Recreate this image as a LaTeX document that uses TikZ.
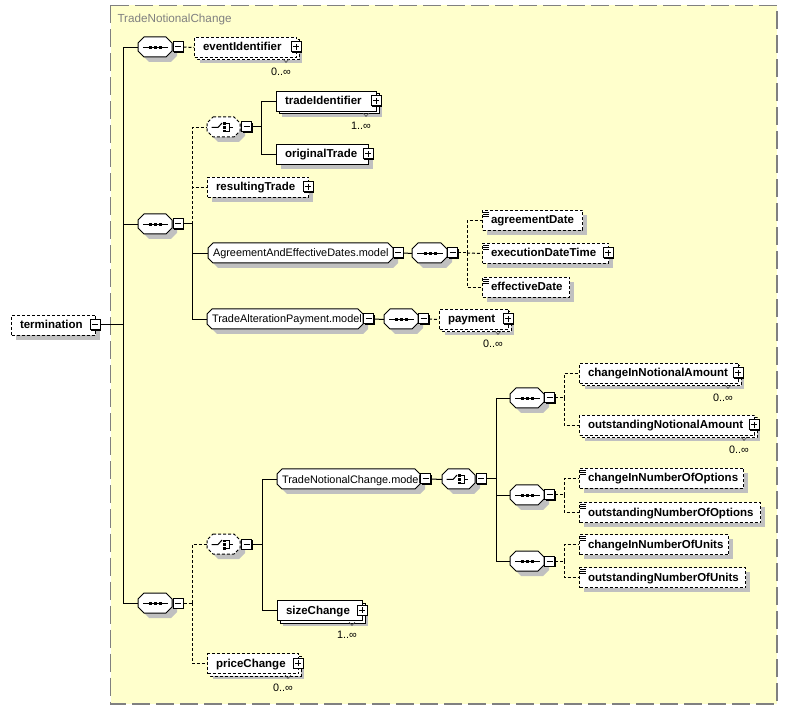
\documentclass[tikz,border=0pt]{standalone}
\usepackage{fontspec}
\setmainfont{Liberation Sans}
\definecolor{bgyellow}{RGB}{255,255,204}
\definecolor{shadowc}{RGB}{192,192,192}
\definecolor{framec}{RGB}{128,128,128}
\tikzset{
  dsh/.style={dash pattern=on 3pt off 2pt},
  elbox/.style={draw, fill=white, line width=1pt, inner sep=0pt, rectangle},
  anchorbox/.style={inner sep=0pt, rectangle, draw=none},
  eltext/.style={font=\bfseries\fontsize{11.5}{13}\selectfont, inner sep=0pt, anchor=base west},
  grtext/.style={font=\fontsize{10.9}{13}\selectfont, inner sep=0pt, anchor=base west},
  occtext/.style={font=\fontsize{10.8}{12}\selectfont, inner sep=0pt, anchor=base},
  ttext/.style={font=\fontsize{11.7}{13}\selectfont, inner sep=0pt, anchor=base west, text=framec},
  pmnode/.style={draw, fill=white, line width=1pt, minimum size=10pt, inner sep=0pt, rectangle},
}
\newcommand\octo[6]{\path[#1] (#2+#6,#3) -- (#4-#6,#3) -- (#4,#3+#6) -- (#4,#5-#6) -- (#4-#6,#5) -- (#2+#6,#5) -- (#2,#5-#6) -- (#2,#3+#6) -- cycle;}
\newcommand\elem[8]{%
  \ifnum#8=1
    \fill[shadowc] (#2+6,#3+6) rectangle (#4+6,#5+6);
    \draw[#7,fill=white,line width=1pt] (#2+3,#3+3) rectangle (#4+3,#5+3);
  \else
    \fill[shadowc] (#2+5,#3+5) rectangle (#4+5,#5+5);
  \fi
  \node[elbox,#7,anchor=north west,minimum width=#4-#2,minimum height=#5-#3] (#1) at (#2,#3) {};
  \node[eltext] (#1t) at (#2+8.5,#3+14) {#6};
}
\newcommand\pmbox[4]{%
  \fill[black] (#2-4,#3-4) rectangle (#2+6,#3+6);
  \node[pmnode] (#1) at (#2,#3) {};
  \draw[line width=1pt] (#2-3,#3) -- (#2+3,#3);
  \ifnum#4=1 \draw[line width=1pt] (#2,#3-3) -- (#2,#3+3);\fi
}
\newcommand\seqn[5]{%
  \octo{fill=shadowc,shift={(5,5)}}{#2}{#3}{#4}{#5}{6}
  \octo{draw,fill=white,line width=1pt}{#2}{#3}{#4}{#5}{6}
  \node[anchorbox,anchor=north west,minimum width=#4-#2,minimum height=#5-#3] (#1) at (#2,#3) {};
  \draw[line width=1pt] ([xshift=5pt]#1.west) -- ([xshift=-5pt]#1.east);
  \foreach \d in {-5,0,5} \fill ([xshift=\d pt]#1.center) +(-1.5pt,-1.3pt) rectangle +(1.5pt,1.3pt);
}
\newcommand\choicen[6]{%
  \octo{fill=shadowc,shift={(5,5)}}{#2}{#3}{#4}{#5}{6}
  \octo{draw,fill=white,line width=1pt,#6}{#2}{#3}{#4}{#5}{6}
  \node[anchorbox,anchor=north west,minimum width=#4-#2,minimum height=#5-#3] (#1) at (#2,#3) {};
  \begin{scope}[shift={(#1.west)}]
    \draw[line width=1pt] (4.5,0) -- (11,0) -- (15,-4.5);
    \fill (16,-5) rectangle (18.5,-2.5);
    \fill (16,-1.3) rectangle (18.5,1.3);
    \fill (16,2.5) rectangle (18.5,5);
    \draw[line width=0.8pt] (18.5,-3.75) -- (22,-3.75) -- (22,3.75) -- (18.5,3.75) (22,0) -- (25.5,0);
  \end{scope}
}
\newcommand\groupn[6]{%
  \octo{fill=shadowc,shift={(5,5)}}{#2}{#3}{#4}{#5}{5}
  \octo{draw,fill=white,line width=1pt}{#2}{#3}{#4}{#5}{5}
  \node[anchorbox,anchor=north west,minimum width=#4-#2,minimum height=#5-#3] (#1) at (#2,#3) {};
  \node[grtext] (#1t) at (#2+4.5,#3+14) {#6};
}
\newcommand\occ[4]{%
  \draw[line width=0.6pt, black!70] (#2-13,#3+2) -- (#2-10,#3+5.5) -- (#2-7,#3+2);
  \node[occtext] (#1) at (#2-15,#3+18.5) {#4};
}
\newcommand\eqicon[2]{\draw[line width=0.8pt] (#1+1,#2+2) -- (#1+7,#2+2) (#1+1,#2+4) -- (#1+7,#2+4) (#1+1,#2+6) -- (#1+7,#2+6);}
\begin{document}
\begin{tikzpicture}[x=1pt,y=-1pt,line width=1pt]
\useasboundingbox (0,0) rectangle (788,711);
\draw[framec,line width=1.5pt,dash pattern=on 18pt off 6pt,fill=bgyellow] (110.5,5.5) rectangle (777,704);
\node[ttext] (title) at (117,23) {TradeNotionalChange};

% root
\elem{term}{11}{315}{95}{335}{termination}{dsh}{0}
\pmbox{termm}{95}{325}{0}

% first sequence
\seqn{s1}{138}{37}{172}{57}
\pmbox{s1m}{178}{47}{0}
\elem{ev}{194}{37}{296}{57}{eventIdentifier}{dsh}{1}
\pmbox{evp}{296}{47}{1}
\occ{evo}{296}{57}{0..∞}

% second sequence
\seqn{s2}{138}{214}{172}{234}
\pmbox{s2m}{178}{224}{0}
\choicen{c1}{207}{117}{240}{137}{dsh}
\pmbox{c1m}{246.5}{127}{0}
\elem{ti}{276}{91}{376}{111}{tradeIdentifier}{solid}{1}
\pmbox{tip}{376}{101}{1}
\occ{tio}{376}{111}{1..∞}
\elem{ot}{276}{144}{368}{164}{originalTrade}{solid}{0}
\pmbox{otp}{368}{154}{1}
\elem{rt}{207}{177}{308}{197}{resultingTrade}{dsh}{0}
\pmbox{rtp}{308}{187}{1}
\groupn{aed}{208}{243}{393}{263}{AgreementAndEffectiveDates.model}
\pmbox{aedm}{398}{253}{0}
\seqn{s4}{412}{243}{447}{263}
\pmbox{s4m}{452.5}{253}{0}
\elem{ad}{482}{210}{582}{230}{agreementDate}{dsh}{0}
\eqicon{482}{210}
\elem{edt}{482}{243}{608}{263}{executionDateTime}{dsh}{0}
\eqicon{482}{243}
\pmbox{edtp}{608}{253}{1}
\elem{efd}{482}{277}{569}{297}{effectiveDate}{dsh}{0}
\eqicon{482}{277}
\groupn{tap}{207}{309}{363}{329}{TradeAlterationPayment.model}
\pmbox{tapm}{368.5}{319}{0}
\seqn{s5}{384}{309}{418}{329}
\pmbox{s5m}{423.5}{319}{0}
\elem{pay}{439}{309}{508}{329}{payment}{dsh}{1}
\pmbox{payp}{508}{319}{1}
\occ{payo}{508}{329}{0..∞}

% third sequence
\seqn{s3}{138}{593}{172}{613}
\pmbox{s3m}{178}{603}{0}
\choicen{c2}{207}{534}{240}{554}{dsh}
\pmbox{c2m}{246.5}{544}{0}
\groupn{tnc}{277}{469}{420}{489}{TradeNotionalChange.model}
\pmbox{tncm}{425.5}{479}{0}
\choicen{c3}{442}{469}{475}{489}{solid}
\pmbox{c3m}{481}{479}{0}
\elem{sz}{277}{600}{362}{620}{sizeChange}{solid}{1}
\pmbox{szp}{362}{610}{1}
\occ{szo}{362}{620}{1..∞}
\elem{pc}{207}{653}{298}{673}{priceChange}{dsh}{1}
\pmbox{pcp}{298}{663}{1}
\occ{pco}{298}{673}{0..∞}

\seqn{sa}{510}{388}{544}{408}
\pmbox{sam}{549.5}{398}{0}
\seqn{sb}{510}{485}{544}{505}
\pmbox{sbm}{549.5}{495}{0}
\seqn{sc}{510}{551}{544}{571}
\pmbox{scm}{549.5}{561}{0}
\elem{cna}{579}{363}{738}{383}{changeInNotionalAmount}{dsh}{1}
\pmbox{cnap}{738}{373}{1}
\occ{cnao}{738}{383}{0..∞}
\elem{ona}{579}{415}{754}{435}{outstandingNotionalAmount}{dsh}{1}
\pmbox{onap}{754}{425}{1}
\occ{onao}{754}{435}{0..∞}
\elem{cno}{579}{468}{743}{488}{changeInNumberOfOptions}{dsh}{0}
\eqicon{579}{468}
\elem{ono}{579}{502}{760}{522}{outstandingNumberOfOptions}{dsh}{0}
\eqicon{579}{502}
\elem{cnu}{579}{534}{728}{554}{changeInNumberOfUnits}{dsh}{0}
\eqicon{579}{534}
\elem{onu}{579}{567}{745}{587}{outstandingNumberOfUnits}{dsh}{0}
\eqicon{579}{567}

% connectors
\coordinate (bus0) at (123,325);
\draw (termm.east) -- (bus0);
\draw (bus0) |- (s1.west);
\draw (bus0) |- (s2.west);
\draw (bus0) |- (s3.west);
\draw[dsh] (s1m.east) -- (ev.west);

\coordinate (bus1) at (192,224);
\draw (s2m.east) -- (bus1);
\draw[dsh] (bus1) |- (c1.west);
\draw[dsh] (bus1) |- (rt.west);
\draw (bus1) |- (aed.west);
\draw (bus1) |- (tap.west);

\coordinate (bus2) at (261,127);
\draw (c1m.east) -- (bus2);
\draw (bus2) |- (ti.west);
\draw (bus2) |- (ot.west);

\draw (aedm.east) -- (s4.west);
\coordinate (bus3) at (467,253);
\draw[dsh] (s4m.east) -- (bus3);
\draw[dsh] (bus3) |- (ad.west);
\draw[dsh] (bus3) -- (edt.west);
\draw[dsh] (bus3) |- (efd.west);

\draw (tapm.east) -- (s5.west);
\draw[dsh] (s5m.east) -- (pay.west);

\coordinate (bus4) at (192,603);
\draw[dsh] (s3m.east) -- (bus4);
\draw[dsh] (bus4) |- (c2.west);
\draw[dsh] (bus4) |- (pc.west);

\coordinate (bus5) at (262,544);
\draw (c2m.east) -- (bus5);
\draw (bus5) |- (tnc.west);
\draw (bus5) |- (sz.west);

\draw (tncm.east) -- (c3.west);
\coordinate (bus6) at (496,479);
\draw (c3m.east) -- (bus6);
\draw (bus6) |- (sa.west);
\draw (bus6) |- (sb.west);
\draw (bus6) |- (sc.west);

\coordinate (bus7) at (564,398);
\draw[dsh] (sam.east) -- (bus7);
\draw[dsh] (bus7) |- (cna.west);
\draw[dsh] (bus7) |- (ona.west);
\coordinate (bus8) at (564,495);
\draw[dsh] (sbm.east) -- (bus8);
\draw[dsh] (bus8) |- (cno.west);
\draw[dsh] (bus8) |- (ono.west);
\coordinate (bus9) at (564,561);
\draw[dsh] (scm.east) -- (bus9);
\draw[dsh] (bus9) |- (cnu.west);
\draw[dsh] (bus9) |- (onu.west);
\end{tikzpicture}
\end{document}
